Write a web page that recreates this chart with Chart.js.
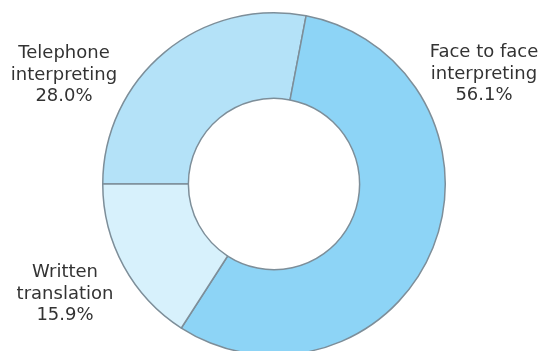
<!DOCTYPE html>
<html>
<head>
<meta charset="utf-8">
<script src="https://cdn.jsdelivr.net/npm/chart.js@4"></script>
<style>
  html, body { margin: 0; padding: 0; background: #fff; overflow: hidden; }
  #wrap { position: absolute; left: 0; top: 0; width: 542px; height: 368px; }
</style>
</head>
<body>
<div id="wrap"><canvas id="pie" width="542" height="368"></canvas></div>
<script>
const categories = ['Telephone interpreting', 'Face to face interpreting', 'Written translation'];
const percents = [28.0, 56.1, 15.9];
const labelLines = [
  ['Telephone', 'interpreting', '28.0%'],
  ['Face to face', 'interpreting', '56.1%'],
  ['Written', 'translation', '15.9%']
];
const colores = ['#b4e2f8', '#8dd4f6', '#d7f1fc'];

// etiquetas fuera del anillo (centro x, linea base de la primera fila)
const labelPos = [[64, 58], [484, 57], [65, 277]];
const outsideLabels = {
  id: 'outsideLabels',
  afterDraw(chart) {
    const ctx = chart.ctx;
    ctx.save();
    ctx.font = '18px "DejaVu Sans", Verdana, sans-serif';
    ctx.fillStyle = '#333333';
    ctx.textAlign = 'center';
    ctx.textBaseline = 'alphabetic';
    labelLines.forEach((lines, i) => {
      lines.forEach((t, j) => {
        ctx.fillText(t, labelPos[i][0], labelPos[i][1] + j * 21.5);
      });
    });
    ctx.restore();
  }
};

new Chart(document.getElementById('pie'), {
  type: 'doughnut',
  data: {
    labels: categories,
    datasets: [{
      data: percents,
      backgroundColor: colores,
      borderColor: '#7d8e99',
      borderWidth: 1.5
    }]
  },
  options: {
    responsive: false,
    animation: false,
    rotation: -90,
    cutout: '50%',
    layout: { padding: { top: 12, bottom: 12, left: 6, right: 0 } },
    plugins: {
      legend: { display: false },
      tooltip: { enabled: false }
    }
  },
  plugins: [outsideLabels]
});
</script>
</body>
</html>
